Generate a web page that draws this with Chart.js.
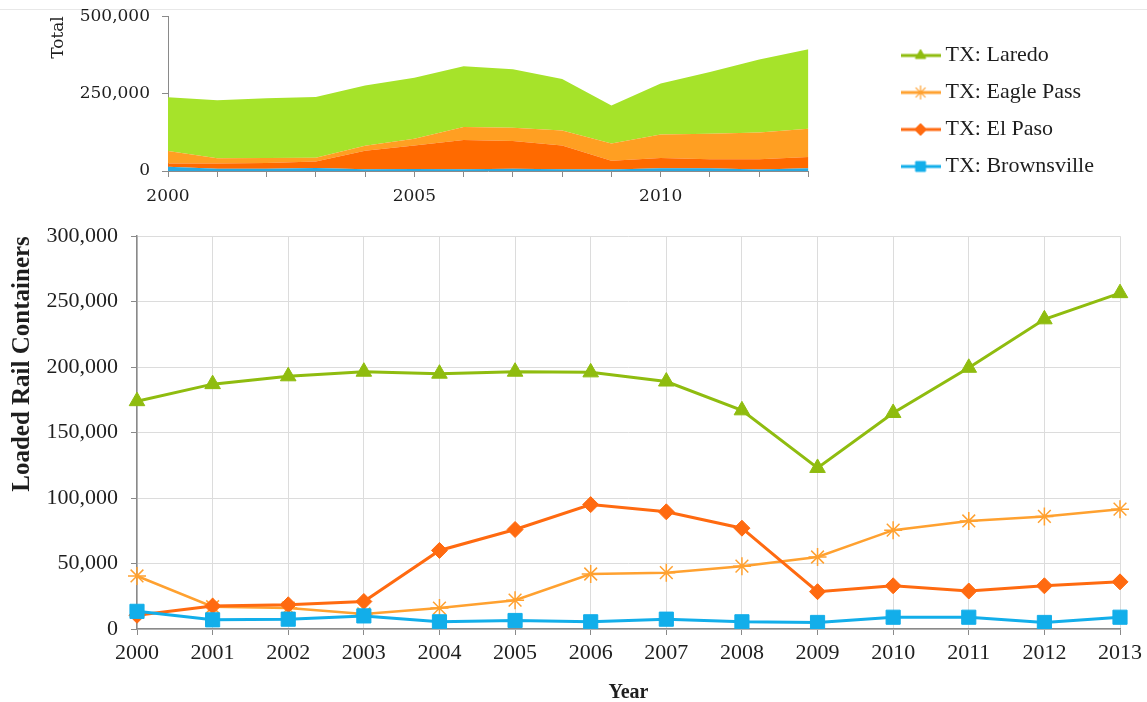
<!DOCTYPE html>
<html>
<head>
<meta charset="utf-8">
<script src="https://cdn.jsdelivr.net/npm/chart.js"></script>
<style>
  html, body { margin: 0; padding: 0; background: #fff; }
  body { width: 1147px; height: 702px; position: relative; overflow: hidden; }
  .topline { position: absolute; left: 0; top: 9px; width: 1147px; height: 1px; background: #e8e8e8; }
  #totalWrap { position: absolute; left: 0; top: -6px; width: 1147px; height: 221px; }
  #lineWrap { position: absolute; left: 0; top: 210px; width: 1147px; height: 492px; }
</style>
</head>
<body>
<div class="topline"></div>
<div id="totalWrap"><canvas id="totalChart" width="1147" height="221"></canvas></div>
<div id="lineWrap"><canvas id="lineChart" width="1147" height="492"></canvas></div>
<script>
// loaded rail containers by port of entry
const years = ['2000', '2001', '2002', '2003', '2004', '2005', '2006', '2007', '2008', '2009', '2010', '2011', '2012', '2013'];
const laredo = [174000, 187000, 193000, 196500, 195000, 196500, 196000, 189000, 167000, 123000, 165000, 199500, 236500, 256500];
const eaglePass = [40500, 17000, 16000, 11500, 16000, 22000, 42000, 43000, 48000, 55000, 75500, 82500, 86000, 91500];
const elPaso = [10500, 17500, 18500, 21000, 60000, 76000, 95000, 89500, 77000, 28500, 33000, 29000, 33000, 36000];
const brownsville = [13500, 7000, 7500, 10000, 5500, 6500, 5500, 7500, 5500, 5000, 9000, 9000, 5000, 9000];

const seriesNames = ['TX: Laredo', 'TX: Eagle Pass', 'TX: El Paso', 'TX: Brownsville'];
const totalTicks = [0, 250000, 500000];
const lineTicks = [0, 50000, 100000, 150000, 200000, 250000, 300000];

const lineColors = ['#8fbc0f', '#ffa130', '#ff6a10', '#12aeea'];
const areaColors = ['#a6e32a', '#ff9f22', '#ff6a00', '#2aa9e0'];
const markers = ['triangle', 'star', 'rectRot', 'rect'];

Chart.defaults.animation = false;
Chart.defaults.color = '#1e1e1e';

const serif = 'Liberation Serif';
const topSerif = 'DejaVu Serif';

// small line+marker icons for the legend
function makeIcon(color, style, radius) {
    const c = document.createElement('canvas');
    c.width = 40;
    c.height = 22;
    const ctx = c.getContext('2d');
    ctx.strokeStyle = color;
    ctx.fillStyle = color;
    ctx.lineWidth = 3;
    ctx.beginPath();
    ctx.moveTo(0, 11);
    ctx.lineTo(40, 11);
    ctx.stroke();
    ctx.lineWidth = style === 'star' ? 1.2 : 1;
    Chart.helpers.drawPoint(ctx, { pointStyle: style, radius: radius, rotation: 0, borderWidth: ctx.lineWidth }, 20, 11);
    return c;
}
const legendIcons = [
    makeIcon(lineColors[0], markers[0], 6),
    makeIcon(lineColors[1], markers[1], 7),
    makeIcon(lineColors[2], markers[2], 6),
    makeIcon(lineColors[3], markers[3], 7)
];

// stacked area of the totals (bottom series first)
const stackOrder = [3, 2, 1, 0];
const stackData = [laredo, eaglePass, elPaso, brownsville];

new Chart(document.getElementById('totalChart'), {
    type: 'line',
    data: {
        labels: years,
        datasets: stackOrder.map((s, i) => ({
            label: seriesNames[s],
            data: stackData[s],
            backgroundColor: areaColors[s],
            borderWidth: 0,
            pointRadius: 0,
            fill: i === 0 ? 'origin' : '-1'
        }))
    },
    options: {
        responsive: false,
        events: [],
        layout: { padding: { top: 13, bottom: 0, left: 0, right: 43 } },
        plugins: {
            tooltip: { enabled: false },
            legend: {
                position: 'right',
                align: 'center',
                maxWidth: 280,
                labels: {
                    usePointStyle: true,
                    pointStyleWidth: 28,
                    padding: 15,
                    color: '#1e1e1e',
                    font: { family: serif, size: 22 },
                    generateLabels: () => seriesNames.map((name, i) => ({
                        text: name,
                        pointStyle: legendIcons[i],
                        fillStyle: lineColors[i],
                        strokeStyle: lineColors[i],
                        lineWidth: 0,
                        hidden: false,
                        fontColor: '#1e1e1e',
                        datasetIndex: 3 - i
                    }))
                }
            }
        },
        scales: {
            x: {
                grid: { drawOnChartArea: false, tickLength: 6, tickColor: '#8a8a8a' },
                border: { color: '#8a8a8a' },
                ticks: {
                    autoSkip: false,
                    maxRotation: 0,
                    padding: 9,
                    font: { family: topSerif, size: 17 },
                    callback: (v, i) => (i % 5 === 0 ? years[i] : '')
                },
                afterFit: (s) => { s.height = 44; }
            },
            y: {
                stacked: true,
                min: 0,
                max: 500000,
                afterBuildTicks: (s) => { s.ticks = totalTicks.map(v => ({ value: v })); },
                grid: { drawOnChartArea: false, tickLength: 6, tickColor: '#8a8a8a' },
                border: { color: '#8a8a8a' },
                ticks: { padding: 12, font: { family: topSerif, size: 17 } },
                title: {
                    display: true,
                    text: 'Total',
                    align: 'end',
                    padding: { top: 48, bottom: 0 },
                    font: { family: topSerif, size: 17 }
                },
                afterFit: (s) => { s.width = 168; }
            },
            gap: {
                type: 'linear',
                position: 'right',
                grid: { display: false },
                border: { display: false },
                ticks: { display: false },
                afterFit: (s) => { s.width = 83; }
            }
        }
    }
});

// line chart per port
const lineData = [laredo, eaglePass, elPaso, brownsville];
const pointSizes = [9, 9, 8, 10];
const drawOrder = [3, 2, 1, 0];

new Chart(document.getElementById('lineChart'), {
    type: 'line',
    data: {
        labels: years,
        datasets: seriesNames.map((name, i) => ({
            label: name,
            data: lineData[i],
            borderColor: lineColors[i],
            backgroundColor: lineColors[i],
            borderWidth: i === 1 ? 2.5 : 3,
            pointStyle: markers[i],
            pointRadius: pointSizes[i],
            pointBorderWidth: i === 1 ? 1.5 : 1,
            pointBorderColor: lineColors[i],
            pointBackgroundColor: lineColors[i],
            fill: false,
            tension: 0,
            order: drawOrder[i]
        }))
    },
    options: {
        responsive: false,
        events: [],
        layout: { padding: { top: 16, right: 25, left: 0, bottom: 0 } },
        plugins: {
            legend: { display: false },
            tooltip: { enabled: false }
        },
        scales: {
            x: {
                grid: { color: '#dcdcdc', tickLength: 6, tickColor: '#8a8a8a' },
                border: { color: '#8a8a8a', width: 1.5 },
                ticks: { autoSkip: false, maxRotation: 0, padding: 5, font: { family: serif, size: 22 } },
                title: {
                    display: true,
                    text: 'Year',
                    padding: { top: 0, bottom: -3 },
                    font: { family: serif, size: 20, weight: 'bold' }
                },
                afterFit: (s) => { s.height = 73; }
            },
            y: {
                min: 0,
                max: 300000,
                afterBuildTicks: (s) => { s.ticks = lineTicks.map(v => ({ value: v })); },
                grid: { color: '#dcdcdc', tickLength: 6, tickColor: '#8a8a8a' },
                border: { color: '#8a8a8a', width: 1.5 },
                ticks: { padding: 13, font: { family: serif, size: 22 } },
                title: {
                    display: true,
                    text: 'Loaded Rail Containers',
                    align: 'end',
                    padding: { top: 8, bottom: 0 },
                    font: { family: serif, size: 25, weight: 'bold' }
                },
                afterFit: (s) => { s.width = 137; }
            }
        }
    }
});
</script>
</body>
</html>
